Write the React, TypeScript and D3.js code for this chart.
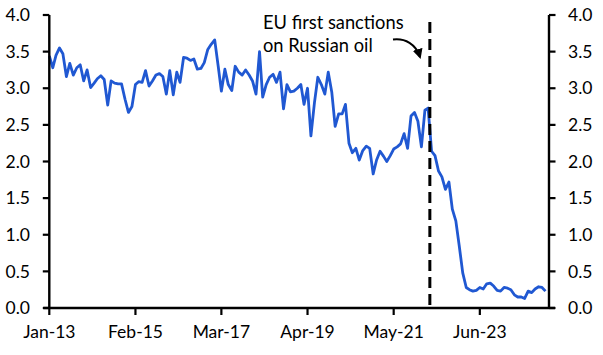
import React from 'react';
import * as d3 from 'd3';

// Monthly series, Jan-2013 .. Jan-2025
const startDate = new Date(2013, 0, 1);
const values: number[] = [
  3.44, 3.28, 3.45, 3.55, 3.47, 3.16, 3.34, 3.18, 3.28, 3.32, 3.10, 3.25, 3.01, 3.07, 3.13, 3.17, 3.12, 2.77, 3.10, 3.07, 3.06, 3.06, 2.85, 2.67, 2.75, 3.05, 3.09, 3.08, 3.24,
  3.03, 3.10, 3.18, 3.20, 3.16, 2.92, 3.24, 2.91, 3.22, 3.08, 3.42, 3.41, 3.38, 3.40, 3.26, 3.27, 3.35, 3.53, 3.60, 3.66, 3.30, 2.96, 3.26, 3.05, 2.97, 3.30, 3.22,
  3.18, 3.25, 3.18, 3.10, 2.92, 3.50, 2.88, 3.05, 3.15, 3.19, 3.08, 3.22, 2.72, 3.05, 2.95, 2.96, 3.00, 3.05, 2.78, 3.00, 2.35, 2.80, 3.15, 3.05, 2.92, 3.22, 2.95, 2.48, 2.65, 2.65, 2.78,
  2.25, 2.12, 2.18, 2.02, 2.15, 2.21, 2.18, 1.83, 2.02, 2.14, 2.07, 2.00, 2.08, 2.17, 2.20, 2.24, 2.38, 2.18, 2.62, 2.67, 2.55, 2.20, 2.70, 2.73,
  2.14, 2.08, 1.87, 1.79, 1.62, 1.72, 1.35, 1.19, 0.85, 0.48, 0.28, 0.25, 0.23, 0.24, 0.28, 0.26, 0.33, 0.34, 0.30, 0.24, 0.23, 0.28, 0.27, 0.25, 0.18, 0.15, 0.15, 0.13, 0.23, 0.21, 0.26, 0.29, 0.28, 0.23,
];

const yTicks = [0, 0.5, 1, 1.5, 2, 2.5, 3, 3.5, 4];
const xTickLabels = ['Jan-13', 'Feb-15', 'Mar-17', 'Apr-19', 'May-21', 'Jun-23'];
const xTickMonthOffsets = [0, 25, 50, 75, 100, 125];
const domainEndMonthOffset = 145;
const sanctionMonthOffset = 110.5;
const annotationLines = ['EU first sanctions', 'on Russian oil'];

const monthDate = (m: number) => {
  const whole = Math.floor(m);
  const d = d3.timeMonth.offset(startDate, whole);
  const next = d3.timeMonth.offset(startDate, whole + 1);
  return new Date(d.getTime() + (next.getTime() - d.getTime()) * (m - whole));
};

export default function App() {
  const W = 603;
  const H = 355;
  const left = 49.3;
  const right = 549;
  const top = 15;
  const bottom = 308;

  const x = d3.scaleTime().domain([startDate, monthDate(domainEndMonthOffset)]).range([left, right]);
  const y = d3.scaleLinear().domain([0, 4]).range([bottom, top]);

  const data = values.map((v, i) => ({ date: monthDate(i), v }));
  const line = d3.line<{ date: Date; v: number }>().x(d => x(d.date)).y(d => y(d.v));

  const font = 'Lato, "Open Sans", sans-serif';
  const sx = x(monthDate(sanctionMonthOffset));

  return (
    <svg width={W} height={H} style={{ position: 'absolute', left: 0, top: 0, background: '#fff' }}>
      <defs>
        <marker id="ah" viewBox="0 0 10 10" refX="8" refY="5" markerWidth="5" markerHeight="5" orient="auto">
          <path d="M0,0 L10,5 L0,10 z" fill="#000" />
        </marker>
      </defs>
      {/* series */}
      <path d={line(data) || ''} fill="none" stroke="#2058d2" strokeWidth={2.8} strokeLinejoin="round" />
      {/* sanction line */}
      <line x1={sx} x2={sx} y1={22} y2={bottom} stroke="#000" strokeWidth={3} strokeDasharray="11 6" />
      {/* axes */}
      <line x1={left} x2={left} y1={top} y2={bottom} stroke="#000" strokeWidth={2.4} />
      <line x1={right} x2={right} y1={top} y2={bottom} stroke="#000" strokeWidth={2.4} />
      <line x1={left - 6} x2={right + 6} y1={bottom} y2={bottom} stroke="#000" strokeWidth={2.6} />
      {yTicks.map(t => (
        <g key={t}>
          <line x1={left - 6.5} x2={left} y1={y(t)} y2={y(t)} stroke="#000" strokeWidth={2.2} />
          <line x1={right} x2={right + 6.5} y1={y(t)} y2={y(t)} stroke="#000" strokeWidth={2.2} />
          <text x={30} y={y(t)} dy="0.35em" textAnchor="end" fontFamily={font} fontSize={17.5} fill="#000">{t.toFixed(1)}</text>
          <text x={568} y={y(t)} dy="0.35em" textAnchor="start" fontFamily={font} fontSize={17.5} fill="#000">{t.toFixed(1)}</text>
        </g>
      ))}
      {xTickMonthOffsets.map((m, i) => {
        const px = x(monthDate(m));
        return (
          <g key={m}>
            <line x1={px} x2={px} y1={bottom} y2={bottom + 7} stroke="#000" strokeWidth={2.2} />
            <text x={px} y={338} textAnchor="middle" fontFamily={font} fontSize={17.5} fill="#000">{xTickLabels[i]}</text>
          </g>
        );
      })}
      {/* annotation */}
      {annotationLines.map((s, i) => (
        <text key={s} x={263} y={28.5 + i * 23.5} fontFamily={font} fontSize={18.3} fill="#000">{s}</text>
      ))}
      <path d="M393,39.5 C405,38 416,44 420,57" fill="none" stroke="#000" strokeWidth={2} markerEnd="url(#ah)" />
    </svg>
  );
}
